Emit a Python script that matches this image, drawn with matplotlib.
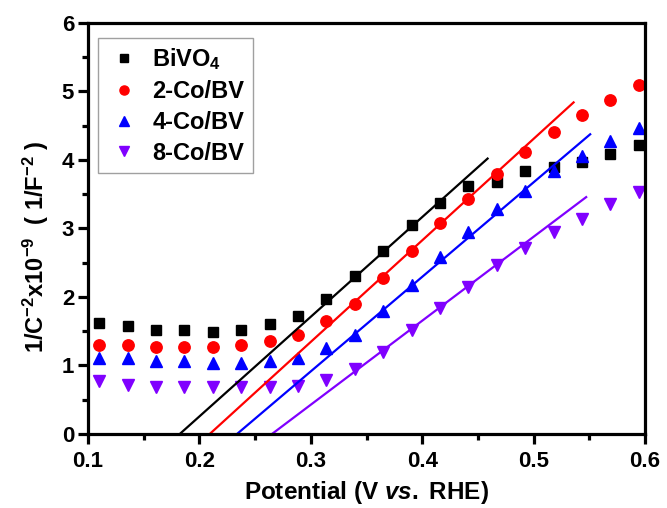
import matplotlib
matplotlib.use("Agg")
import matplotlib.pyplot as plt
import numpy as np
from matplotlib.ticker import MultipleLocator

plt.rcParams['font.family'] = ['Liberation Sans', 'DejaVu Sans']
plt.rcParams['font.weight'] = 'bold'
plt.rcParams['mathtext.fontset'] = 'custom'
plt.rcParams['mathtext.rm'] = 'Liberation Sans:bold'
plt.rcParams['mathtext.it'] = 'Liberation Sans:bold:italic'
plt.rcParams['mathtext.bf'] = 'Liberation Sans:bold'
plt.rcParams['mathtext.default'] = 'rm'

potential = [0.110, 0.1355, 0.161, 0.1865, 0.212, 0.2375, 0.263, 0.2885, 0.314, 0.3395,
             0.365, 0.3905, 0.416, 0.4415, 0.467, 0.4925, 0.518, 0.5435, 0.569, 0.5945]

bivo4 = [1.62, 1.57, 1.52, 1.51, 1.49, 1.51, 1.60, 1.72, 1.97, 2.30,
         2.67, 3.05, 3.37, 3.62, 3.68, 3.83, 3.90, 3.97, 4.09, 4.21]
co2 = [1.30, 1.29, 1.27, 1.27, 1.27, 1.30, 1.35, 1.44, 1.64, 1.90,
       2.27, 2.67, 3.08, 3.43, 3.80, 4.11, 4.40, 4.65, 4.87, 5.09]
co4 = [1.10, 1.10, 1.07, 1.06, 1.04, 1.04, 1.06, 1.10, 1.25, 1.45,
       1.80, 2.18, 2.58, 2.95, 3.28, 3.55, 3.84, 4.05, 4.27, 4.47]
co8 = [0.77, 0.72, 0.69, 0.69, 0.68, 0.69, 0.68, 0.70, 0.78, 0.95,
       1.19, 1.52, 1.83, 2.15, 2.46, 2.71, 2.95, 3.14, 3.36, 3.53]

labels = ['BiVO$_4$', '2-Co/BV', '4-Co/BV', '8-Co/BV']
colors = ['black', '#ff0000', '#0000ff', '#8000ff']
markers = ['s', 'o', '^', 'v']
msizes = [7, 8.2, 8.2, 8.2]

# linear fits (Mott-Schottky): x-intercept, end x, slope
fit_x0 = [0.1825, 0.2094, 0.2339, 0.2653]
fit_x1 = [0.4587, 0.5359, 0.5508, 0.5472]
fit_slope = [14.55, 14.82, 13.8, 12.26]

fig = plt.figure(figsize=(6.67, 5.08), dpi=100)
ax = fig.add_axes([0.132, 0.146, 0.835, 0.809])

series = [bivo4, co2, co4, co8]
for ys, lab, c, m, ms in zip(series, labels, colors, markers, msizes):
    ax.plot(potential, ys, linestyle='none', marker=m, color=c, markersize=ms, label=lab)

for x0, x1, k, c in zip(fit_x0, fit_x1, fit_slope, colors):
    xx = np.array([x0, x1])
    ax.plot(xx, k * (xx - x0), color=c, linewidth=1.6)

ax.set_xlim(0.1, 0.6)
ax.set_ylim(0, 6)
ax.xaxis.set_minor_locator(MultipleLocator(0.05))
ax.yaxis.set_minor_locator(MultipleLocator(0.5))
ax.set_xticks([0.1, 0.2, 0.3, 0.4, 0.5, 0.6])
ax.set_xticklabels(['0.1', '0.2', '0.3', '0.4', '0.5', '0.6'])
ax.set_yticks([0, 1, 2, 3, 4, 5, 6])
ax.set_yticklabels(['0', '1', '2', '3', '4', '5', '6'])

for s in ax.spines.values():
    s.set_linewidth(2.3)
ax.tick_params(which='major', direction='out', length=7.5, width=2.3, labelsize=16)
ax.tick_params(which='minor', direction='out', length=4.3, width=2.3)
ax.tick_params(axis='x', which='major', pad=5)
ax.tick_params(axis='y', which='major', pad=2.5)

ax.set_xlabel('Potential (V $\\mathit{vs.}$ RHE)', fontsize=17.5, fontweight='bold', labelpad=5)
ax.set_ylabel('1/C$^{-2}$x10$^{-9}$  ( 1/F$^{-2}$ )', fontsize=17, fontweight='bold')
ax.yaxis.set_label_coords(-0.066, 0.455)

leg = ax.legend(loc='upper left', bbox_to_anchor=(0.018, 0.963), fontsize=17, frameon=True,
                fancybox=False, edgecolor='#888888', handlelength=1.5, handletextpad=0.45,
                borderpad=0.35, labelspacing=0.33, markerscale=0.8, borderaxespad=0.0)
leg.get_frame().set_linewidth(1.0)

fig.savefig('out.png', dpi=100)
